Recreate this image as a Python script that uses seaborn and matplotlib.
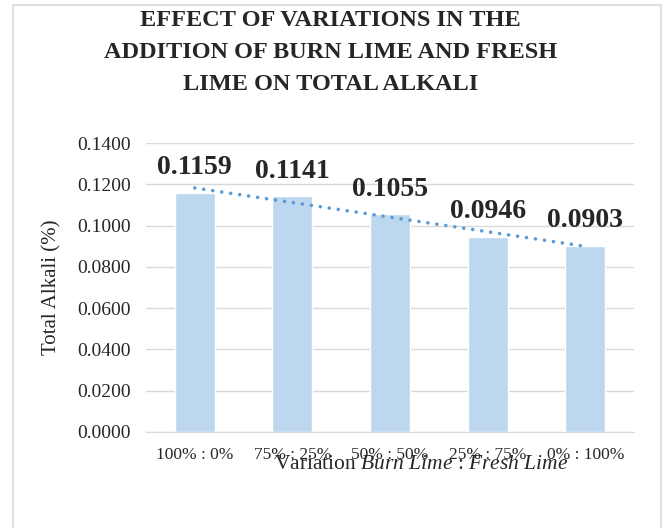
import numpy as np
import pandas as pd
import matplotlib
matplotlib.use('Agg')
import matplotlib.pyplot as plt
import seaborn as sns
from matplotlib.patches import Rectangle

# ── data ─────────────────────────────────────────────
variations = ["100% : 0%", "75% : 25%", "50% : 50%", "25% : 75%", "0% : 100%"]
total_alkali = [0.1159, 0.1141, 0.1055, 0.0946, 0.0903]
yticks = [0.0, 0.02, 0.04, 0.06, 0.08, 0.10, 0.12, 0.14]

df = pd.DataFrame({"variation": variations, "alkali": total_alkali})

sns.set_style("white")
plt.rcParams['font.family'] = ['Liberation Serif', 'DejaVu Serif']
plt.rcParams['mathtext.fontset'] = 'custom'
plt.rcParams['mathtext.it'] = 'Liberation Serif:italic'
plt.rcParams['mathtext.rm'] = 'Liberation Serif'

fig = plt.figure(figsize=(6.65, 5.28), dpi=100)
ax = fig.add_axes([146 / 665, 1 - 432 / 528, 488 / 665, 289 / 528])

sns.barplot(data=df, x="variation", y="alkali", color="#BDD7EE",
            width=0.41, saturation=1, ax=ax, zorder=2)

# linear trendline (dotted)
xs = np.arange(len(total_alkali))
slope, icpt = np.polyfit(xs, total_alkali, 1)
ax.plot(xs, slope * xs + icpt, linestyle=(0, (0.01, 2.5)), color="#5B9BD5",
        linewidth=2.6, dash_capstyle='round', zorder=3)

# data labels
for i, v in enumerate(total_alkali):
    ax.annotate(f"{v:.4f}", (i, v), xytext=(0, 9), textcoords="offset points",
                ha="center", va="bottom", fontsize=20, fontweight="bold")

ax.set_ylim(0, 0.14)
ax.set_xlim(-0.5, 4.5)
ax.set_yticks(yticks)
ax.set_yticklabels([f"{t:.4f}" for t in yticks])
ax.yaxis.grid(True, color="#D9D9D9", linewidth=1, zorder=0)
ax.set_axisbelow(True)
for s in ["top", "right", "left"]:
    ax.spines[s].set_visible(False)
ax.spines["bottom"].set_color("#D9D9D9")
ax.tick_params(axis="y", length=0, labelsize=14, pad=11)
ax.tick_params(axis="x", length=0, labelsize=12.5, pad=11)

ax.set_ylabel("Total Alkali (%)", fontsize=15)
ax.yaxis.set_label_coords(-0.174, 0.5)
ax.set_xlabel(r"Variation $\it{Burn\ Lime}$ : $\it{Fresh\ Lime}$", fontsize=15.5)
ax.xaxis.set_label_coords(0.563, -0.08)

fig.text(0.497, 0.9, "EFFECT OF VARIATIONS IN THE\nADDITION OF BURN LIME AND FRESH\nLIME ON TOTAL ALKALI",
         ha="center", va="center", fontsize=17.5, fontweight="bold", linespacing=1.68)

# chart border
fig.add_artist(Rectangle((13 / 665, -0.01), 648 / 665, 1 - 5 / 528 + 0.01,
                         transform=fig.transFigure, fill=False,
                         edgecolor="#D9D9D9", linewidth=1.2))

plt.savefig("out.png", dpi=100)
